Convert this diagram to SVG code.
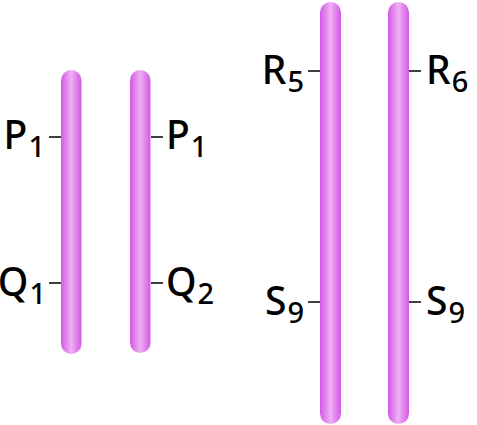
<svg xmlns="http://www.w3.org/2000/svg" width="477" height="425" viewBox="0 0 477 425">
<defs>
<linearGradient id="cyl" x1="0" y1="0" x2="1" y2="0">
<stop offset="0" stop-color="#d458e6"/>
<stop offset="0.5" stop-color="#efb0f3"/>
<stop offset="1" stop-color="#d458e6"/>
</linearGradient>
</defs>
<style>
.chr{fill:url(#cyl);}
.tick{stroke:#000;stroke-width:1.5;}
text{font-family:"Noto Sans","Open Sans",sans-serif;font-size:39px;font-weight:500;fill:#000;}
.sub{font-size:29px;}
.l{text-anchor:end;}
</style>
<g id="connectors">
<line class="tick" x1="49" y1="137" x2="61" y2="137"/>
<line class="tick" x1="49" y1="283" x2="61" y2="283"/>
<line class="tick" x1="151" y1="137" x2="163" y2="137"/>
<line class="tick" x1="151" y1="283" x2="163" y2="283"/>
<line class="tick" x1="308" y1="71" x2="320" y2="71"/>
<line class="tick" x1="308" y1="302" x2="320" y2="302"/>
<line class="tick" x1="409" y1="71" x2="421" y2="71"/>
<line class="tick" x1="409" y1="302" x2="421" y2="302"/>
</g>
<g id="chr1"><rect class="chr" x="61" y="70" width="20.5" height="284" rx="10.25"/></g>
<g id="chr2"><rect class="chr" x="130" y="70" width="20.5" height="283" rx="10.25"/></g>
<g id="chr3"><rect class="chr" x="320" y="2" width="21" height="422" rx="10.5"/></g>
<g id="chr4"><rect class="chr" x="388" y="2" width="21" height="422" rx="10.5"/></g>
<g id="label-p1-left"><text class="l" x="45" y="149">P<tspan class="sub" dx="1" dy="8">1</tspan></text></g>
<g id="label-q1"><text class="l" x="46" y="296">Q<tspan class="sub" dx="1" dy="8">1</tspan></text></g>
<g id="label-p1-right"><text x="166" y="149">P<tspan class="sub" dx="1" dy="8">1</tspan></text></g>
<g id="label-q2"><text x="166" y="296">Q<tspan class="sub" dx="1" dy="8">2</tspan></text></g>
<g id="label-r5"><text class="l" x="304" y="84">R<tspan class="sub" dx="1" dy="8">5</tspan></text></g>
<g id="label-s9-left"><text class="l" x="304" y="315">S<tspan class="sub" dx="1" dy="8">9</tspan></text></g>
<g id="label-r6"><text x="426" y="84">R<tspan class="sub" dx="1" dy="8">6</tspan></text></g>
<g id="label-s9-right"><text x="426" y="315">S<tspan class="sub" dx="1" dy="8">9</tspan></text></g>
</svg>
